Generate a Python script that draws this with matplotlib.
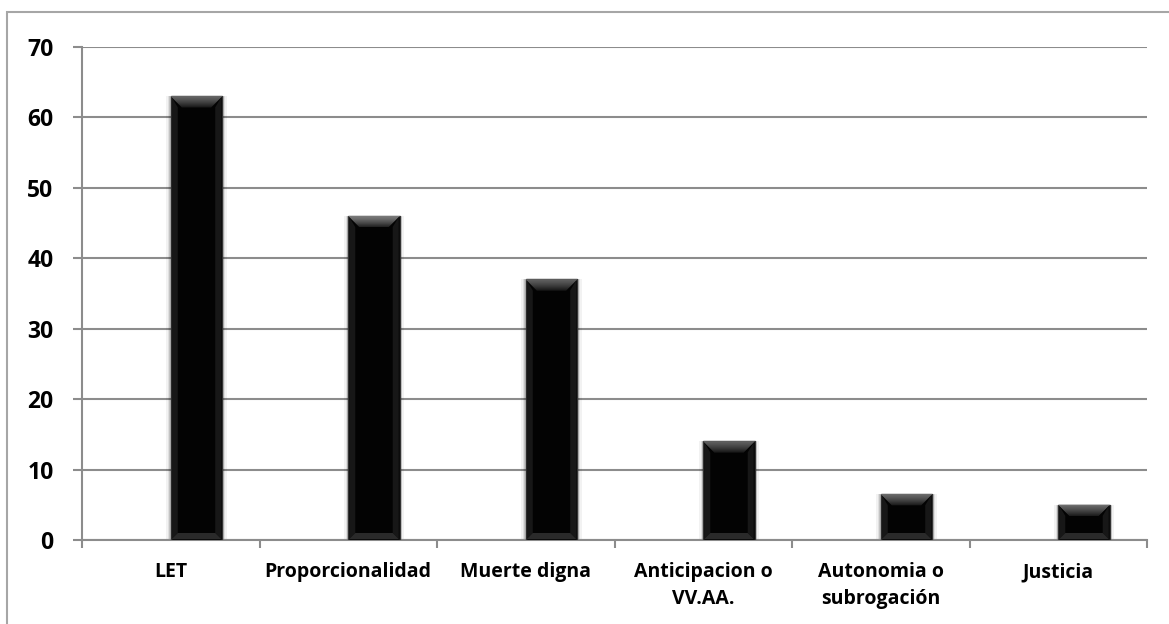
import numpy as np
import matplotlib
matplotlib.use('Agg')
import matplotlib.pyplot as plt
from matplotlib.patches import Polygon, Rectangle

# --- Data ---
categories = ['LET', 'Proporcionalidad', 'Muerte digna', 'Anticipacion o\nVV.AA.',
              'Autonomia o\nsubrogación', 'Justicia']
values = [63, 46, 37, 14, 6.5, 5]
y_ticks = [0, 10, 20, 30, 40, 50, 60, 70]

COL_GRID = '#8c8c8c'
COL_TEXT = '#000000'

plt.rcParams['font.family'] = ['Open Sans', 'DejaVu Sans']

fig = plt.figure(figsize=(11.69, 6.24), dpi=100)
fig.patch.set_facecolor('white')

# outer chart frame (only left and top edges visible)
fig.patches.append(Rectangle((7 / 1169, -0.1), 1.2, 1.1 - 12 / 624,
                             transform=fig.transFigure, fill=False,
                             edgecolor='#a6a6a6', linewidth=1.5))

ax = fig.add_axes([82 / 1169, 1 - 540 / 624, (1147 - 82) / 1169, (540 - 47) / 624])
x = np.arange(len(categories))
bar_w = 0.29
ax.set_xlim(-0.5, len(categories) - 0.5)
ax.set_ylim(0, 70)

ax.set_yticks(y_ticks)
ax.set_yticklabels([str(v) for v in y_ticks], fontsize=16.5, fontweight='bold', color=COL_TEXT)
ax.yaxis.grid(True, color=COL_GRID, linewidth=1.5)
ax.set_axisbelow(True)

ax.set_xticks(np.arange(len(categories) + 1) - 0.5)
ax.set_xticklabels([])
ax.set_xticks(x, minor=True)
ax.set_xticklabels(categories, minor=True, fontsize=14, fontweight='bold', color=COL_TEXT,
                   linespacing=1.42)
# lengths/pads in points (1 px = 0.72 pt at 100 dpi)
ax.tick_params(axis='x', which='minor', length=0, pad=16)
ax.tick_params(axis='x', which='major', length=6, width=1.5, color=COL_GRID)
ax.tick_params(axis='y', length=6.5, width=1.5, color=COL_GRID, pad=14)

for s in ['top', 'right']:
    ax.spines[s].set_visible(False)
for s in ['left', 'bottom']:
    ax.spines[s].set_color(COL_GRID)
    ax.spines[s].set_linewidth(1.5)

# soft shadow around each bar
for k, a in [(0.05, 0.05), (0.03, 0.08), (0.015, 0.12)]:
    ax.bar(x - k / 2, values, width=bar_w + k, align='edge', color='#000000',
           alpha=a, zorder=2, linewidth=0)

bars = ax.bar(x, values, width=bar_w, align='edge', color='#030303',
              edgecolor='#333333', linewidth=1.0, zorder=3)

# bevel on each bar (size in pixels)
bev = 11
to_px = ax.transData
to_data = ax.transData.inverted()
for b in bars:
    x0, y0 = to_px.transform((b.get_x(), 0))
    x1, y1 = to_px.transform((b.get_x() + b.get_width(), b.get_height()))
    n = 11
    for k in range(n):
        f0 = k / n
        f1 = (k + 1) / n
        pts = [(x0 + bev * f0, y1 - bev * f0), (x1 - bev * f0, y1 - bev * f0),
               (x1 - bev * f1, y1 - bev * f1), (x0 + bev * f1, y1 - bev * f1)]
        shade = 0.48 - 0.38 * f0 ** 1.3
        ax.add_patch(Polygon(to_data.transform(pts), closed=True,
                             facecolor=(shade, shade, shade), edgecolor='none', zorder=4))
    s = 7
    for pts, c in [
        ([(x0 + 1, y0 + 1), (x0 + s, y0 + s), (x0 + s, y1 - bev), (x0 + 1, y1 - 1)], '#171717'),
        ([(x1 - 1, y0 + 1), (x1 - s, y0 + s), (x1 - s, y1 - bev), (x1 - 1, y1 - 1)], '#171717'),
        ([(x0 + 1, y0 + 1), (x1 - 1, y0 + 1), (x1 - s, y0 + s), (x0 + s, y0 + s)], '#2a2a2a'),
    ]:
        ax.add_patch(Polygon(to_data.transform(pts), closed=True,
                             facecolor=c, edgecolor='none', zorder=4))

fig.savefig('out.png', dpi=100, facecolor='white')
